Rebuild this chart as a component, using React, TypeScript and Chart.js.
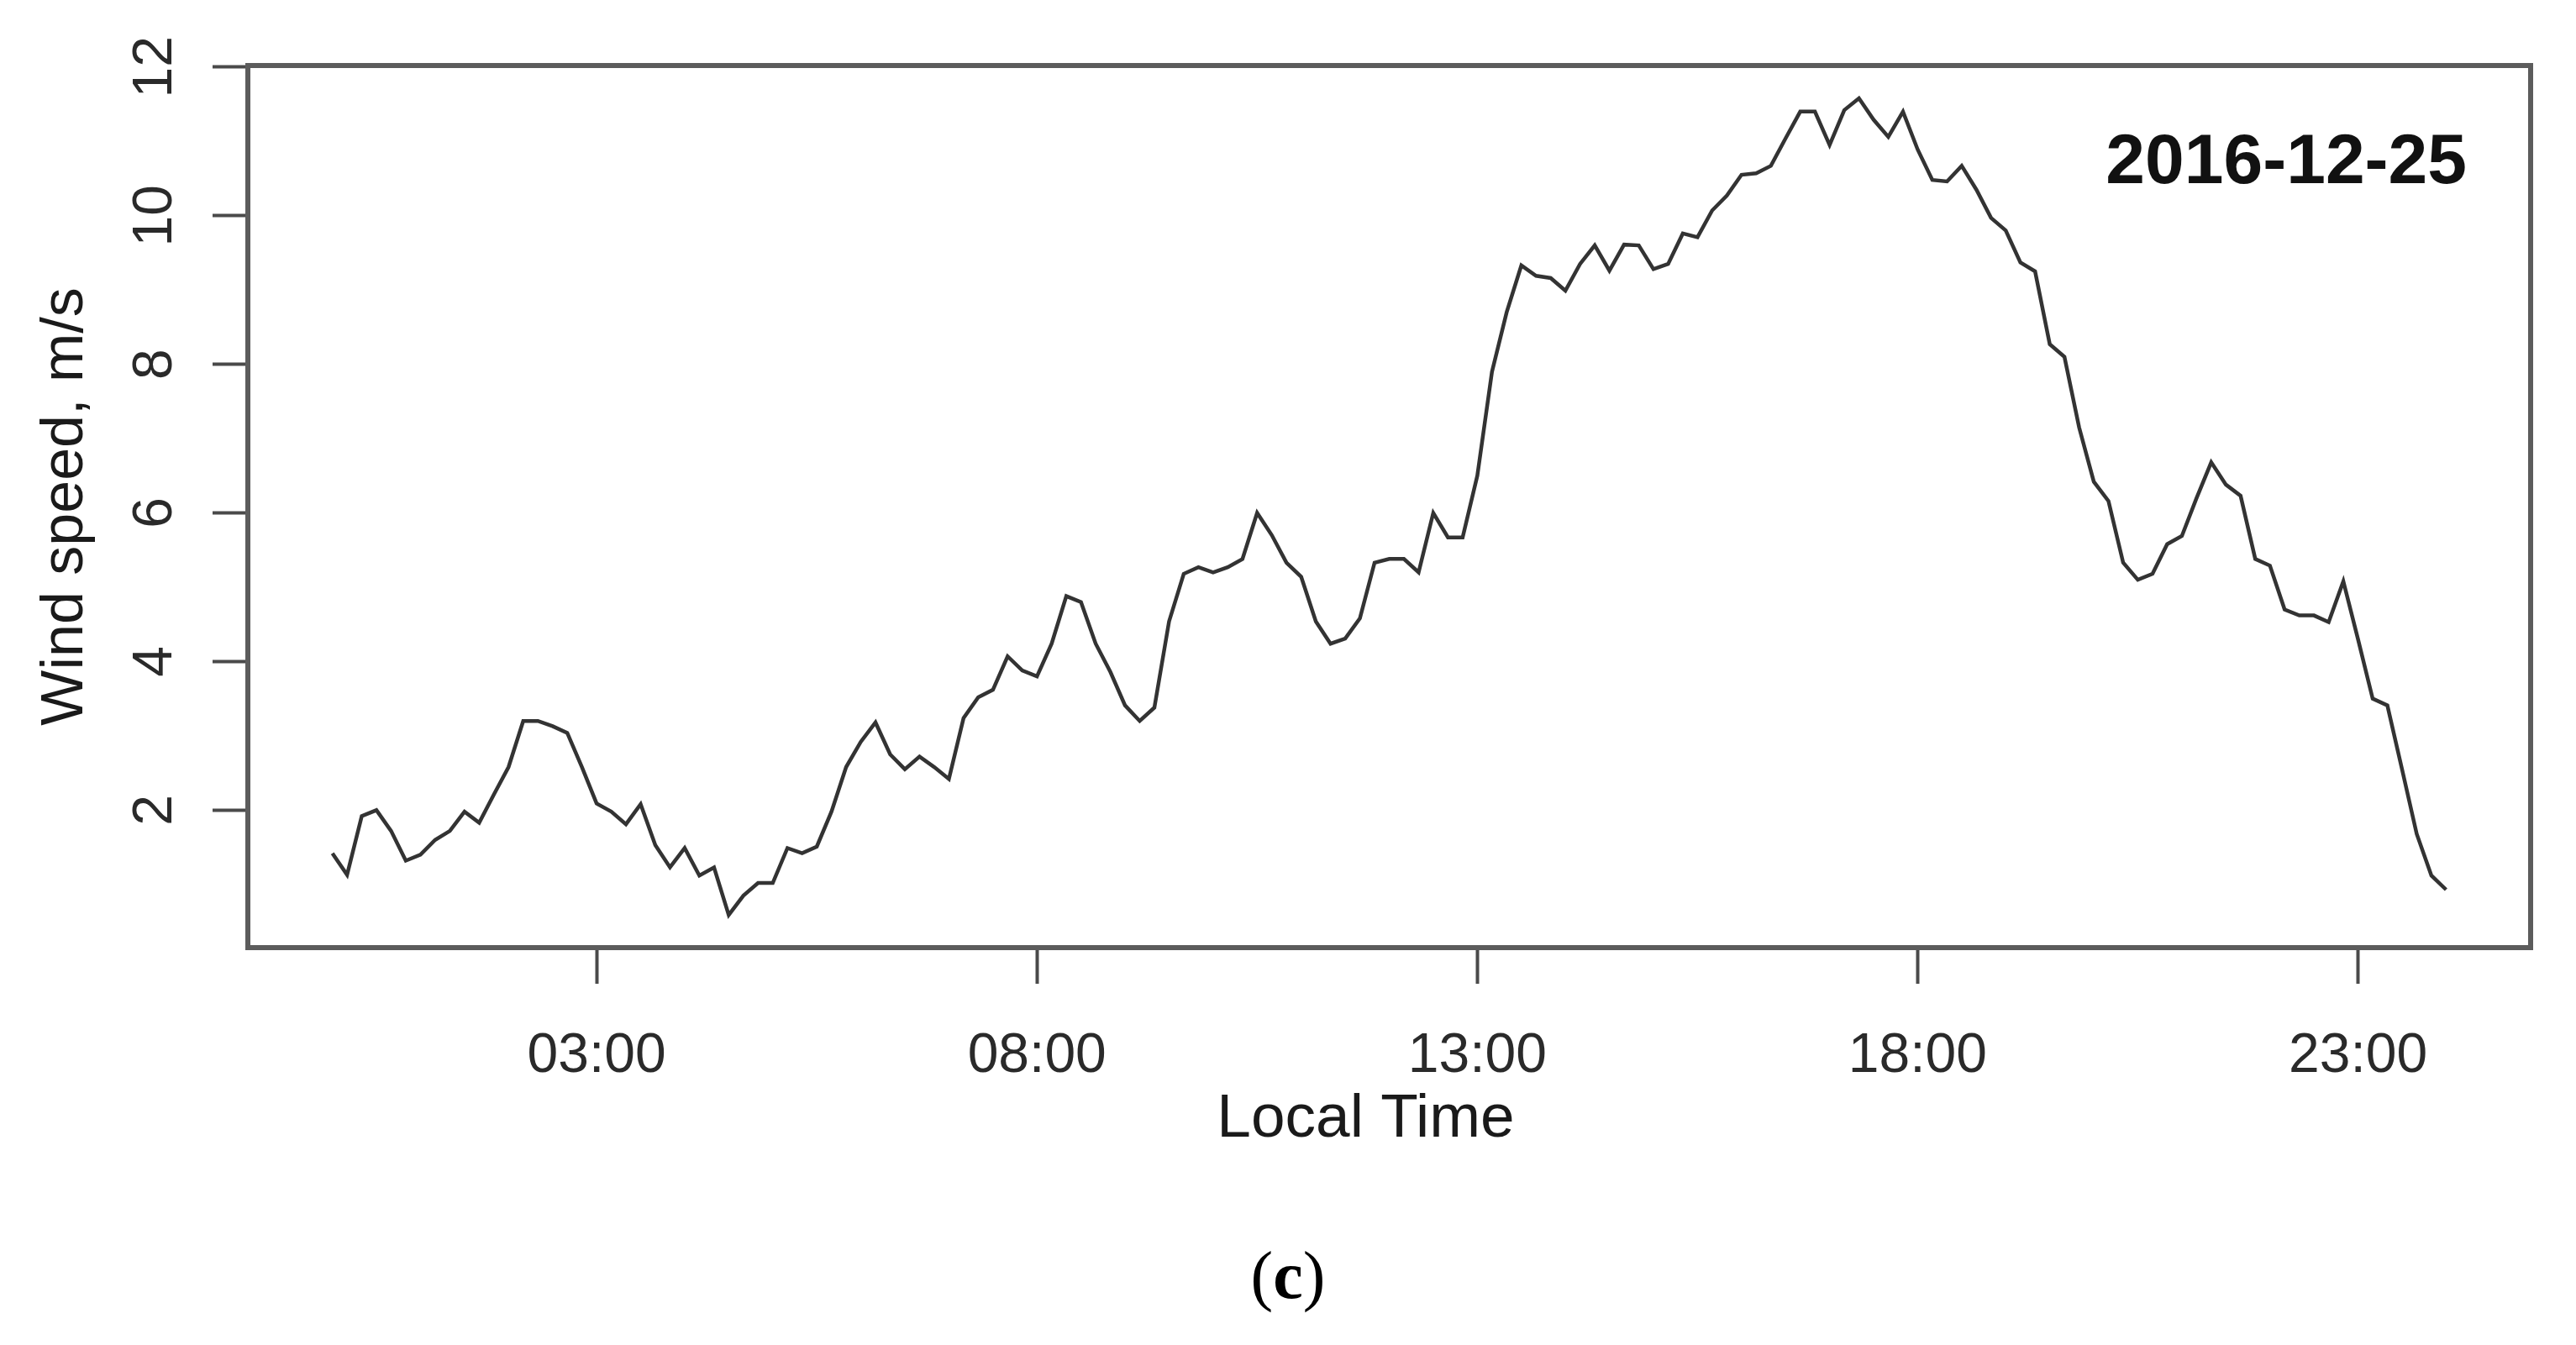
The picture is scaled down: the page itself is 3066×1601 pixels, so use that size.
import React, { useEffect, useRef } from 'react';
import { Chart, registerables } from 'chart.js';

Chart.register(...registerables);

// ---- data (10-minute wind speed, 00:00 .. 24:00) ----
const SAMPLE_STEP_HOURS = 1 / 6;
const windSpeed = [
  1.42, 1.13, 1.92, 2.0, 1.72, 1.32,
  1.40, 1.6, 1.72, 1.98, 1.83, 2.21,
  2.58, 3.2, 3.2, 3.13, 3.04, 2.58,
  2.09, 1.98, 1.81, 2.08, 1.53, 1.23,
  1.49, 1.12, 1.23, 0.59, 0.85, 1.02,
  1.02, 1.49, 1.42, 1.51, 1.98, 2.58,
  2.92, 3.18, 2.75, 2.55, 2.72, 2.58,
  2.42, 3.24, 3.52, 3.62, 4.07, 3.88,
  3.80, 4.24, 4.88, 4.80, 4.24, 3.86,
  3.41, 3.2, 3.38, 4.54, 5.18, 5.27,
  5.2, 5.27, 5.38, 6.0, 5.70, 5.33,
  5.14, 4.54, 4.24, 4.31, 4.58, 5.33,
  5.38, 5.38, 5.2, 6.0, 5.67, 5.67,
  6.5, 7.9, 8.7, 9.33, 9.19, 9.16,
  8.99, 9.35, 9.6, 9.26, 9.61, 9.6,
  9.28, 9.35, 9.76, 9.71, 10.07, 10.27,
  10.55, 10.57, 10.67, 11.04, 11.4, 11.4,
  10.95, 11.42, 11.58, 11.29, 11.06, 11.4,
  10.89, 10.48, 10.46, 10.67, 10.35, 9.97,
  9.80, 9.37, 9.25, 8.27, 8.1, 7.15,
  6.42, 6.16, 5.33, 5.10, 5.18, 5.58,
  5.69, 6.2, 6.68, 6.38, 6.23, 5.38,
  5.29, 4.70, 4.62, 4.62, 4.53, 5.08,
  4.3, 3.50, 3.41, 2.55, 1.68, 1.12,
  0.93,
];
const xTickHours = [3, 8, 13, 18, 23];
const xTickLabels = ['03:00', '08:00', '13:00', '18:00', '23:00'];
const yTickValues = [2, 4, 6, 8, 10, 12];
const xRange = [-0.96, 24.96];
const yRange = [0.15, 12.02];
const dateLabel = '2016-12-25';
const xAxisTitle = 'Local Time';
const yAxisTitle = 'Wind speed, m/s';
const panelLetter = 'c';

const SANS = '"Liberation Sans", Arial, Helvetica, sans-serif';
const SERIF = '"Liberation Serif", "Times New Roman", Times, serif';

export default function App() {
  const ref = useRef<HTMLCanvasElement | null>(null);

  useEffect(() => {
    if (!ref.current) return;
    const points = windSpeed.map((v, i) => ({ x: i * SAMPLE_STEP_HOURS, y: v }));

    const decorPlugin = {
      id: 'rDecor',
      afterDraw(chart: any) {
        const { ctx, chartArea: a } = chart;
        ctx.save();
        // plot box
        ctx.strokeStyle = '#5c5c5c';
        ctx.lineWidth = 6;
        ctx.strokeRect(a.left, a.top, a.right - a.left, a.bottom - a.top);
        // date label
        ctx.fillStyle = '#111';
        ctx.font = `bold 84px ${SANS}`;
        ctx.textAlign = 'right';
        ctx.textBaseline = 'alphabetic';
        ctx.fillText(dateLabel, a.right - 76, a.top + 140);
        // x axis title
        ctx.font = `73px ${SANS}`;
        ctx.textAlign = 'center';
        ctx.fillStyle = '#1a1a1a';
        ctx.fillText(xAxisTitle, (a.left + a.right) / 2 - 28, a.bottom + 225);
        // caption (c)
        ctx.fillStyle = '#000';
        const cx = chart.width / 2;
        const by = a.bottom + 417;
        ctx.font = `80px ${SERIF}`;
        const wOpen = ctx.measureText('(').width;
        const wClose = ctx.measureText(')').width;
        ctx.font = `bold 80px ${SERIF}`;
        const wC = ctx.measureText(panelLetter).width;
        const total = wOpen + wC + wClose;
        let x0 = cx - total / 2;
        ctx.textAlign = 'left';
        ctx.font = `80px ${SERIF}`;
        ctx.fillText('(', x0, by);
        x0 += wOpen;
        ctx.font = `bold 80px ${SERIF}`;
        ctx.fillText(panelLetter, x0, by);
        x0 += wC;
        ctx.font = `80px ${SERIF}`;
        ctx.fillText(')', x0, by);
        ctx.restore();
      },
    };

    const chart = new Chart(ref.current, {
      type: 'line',
      data: {
        datasets: [
          {
            data: points,
            borderColor: '#333',
            borderWidth: 4.5,
            pointRadius: 0,
            tension: 0,
            fill: false,
          },
        ],
      },
      options: {
        responsive: false,
        devicePixelRatio: 1,
        animation: false,
        layout: { padding: { left: 0, top: 78, right: 54, bottom: 0 } },
        plugins: { legend: { display: false }, tooltip: { enabled: false }, title: { display: false } },
        scales: {
          x: {
            type: 'linear',
            min: xRange[0],
            max: xRange[1],
            afterBuildTicks: (s: any) => {
              s.ticks = xTickHours.map((v) => ({ value: v }));
            },
            afterFit: (s: any) => {
              s.height = 473;
            },
            ticks: {
              autoSkip: false,
              maxRotation: 0,
              minRotation: 0,
              padding: 47,
              color: '#2a2a2a',
              font: { size: 66, family: SANS },
              callback: (v: any) => {
                const i = xTickHours.indexOf(Number(v));
                return i >= 0 ? xTickLabels[i] : '';
              },
            },
            grid: {
              drawOnChartArea: false,
              drawTicks: true,
              tickLength: 43,
              tickWidth: 4,
              tickColor: '#4a4a4a',
            },
            border: { display: false },
          },
          y: {
            type: 'linear',
            min: yRange[0],
            max: yRange[1],
            afterBuildTicks: (s: any) => {
              s.ticks = yTickValues.map((v) => ({ value: v }));
            },
            afterFit: (s: any) => {
              s.width = 295;
            },
            ticks: {
              autoSkip: false,
              minRotation: 90,
              maxRotation: 90,
              crossAlign: 'center',
              padding: 30,
              color: '#2a2a2a',
              font: { size: 66, family: SANS },
              callback: (v: any) => String(v),
            },
            grid: {
              drawOnChartArea: false,
              drawTicks: true,
              tickLength: 42,
              tickWidth: 4,
              tickColor: '#4a4a4a',
            },
            border: { display: false },
            title: {
              display: true,
              text: yAxisTitle,
              color: '#1a1a1a',
              font: { size: 70, family: SANS },
              padding: { top: 37, bottom: 0 },
            },
          },
        },
      },
      plugins: [decorPlugin],
    } as any);

    return () => chart.destroy();
  }, []);

  return (
    <div style={{ position: 'fixed', left: 0, top: 0, width: 3066, height: 1601, background: '#fff' }}>
      <canvas ref={ref} width={3066} height={1601} style={{ width: 3066, height: 1601, display: 'block' }} />
    </div>
  );
}
